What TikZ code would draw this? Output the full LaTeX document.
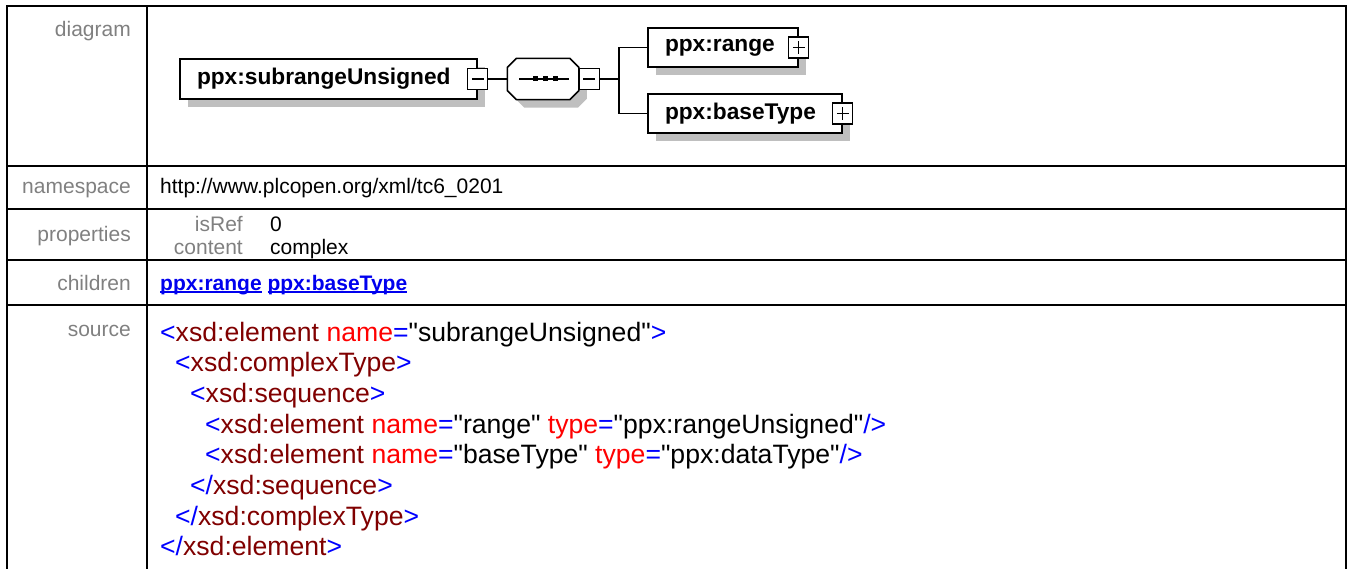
\documentclass[tikz,border=0pt]{standalone}
\usepackage{fontspec}
\setmainfont{Liberation Sans}
\newfontfamily\codefont{Liberation Sans}
\usetikzlibrary{positioning}

\definecolor{labelgray}{RGB}{128,128,128}
\definecolor{xmlblue}{RGB}{0,0,255}
\definecolor{xmltag}{RGB}{128,0,0}
\definecolor{xmlattr}{RGB}{255,0,0}
\definecolor{linkblue}{RGB}{0,0,238}

\newcommand{\xbr}[1]{\textcolor{xmlblue}{#1}}
\newcommand{\xtag}[1]{\textcolor{xmltag}{#1}}
\newcommand{\xatt}[1]{\textcolor{xmlattr}{#1}}
\newcommand{\ulink}[1]{\leavevmode\setbox0\hbox{#1}\rlap{\copy0}\rule[-3pt]{\wd0}{1.6pt}}
% octagon round a node: node, xshift, yshift
\newcommand{\octagon}[3]{([xshift=#2+9pt,yshift=#3]#1.north west) -- ([xshift=#2-9pt,yshift=#3]#1.north east) -- ([xshift=#2,yshift=#3-9pt]#1.north east) -- ([xshift=#2,yshift=#3+9pt]#1.south east) -- ([xshift=#2-9pt,yshift=#3]#1.south east) -- ([xshift=#2+9pt,yshift=#3]#1.south west) -- ([xshift=#2,yshift=#3+9pt]#1.south west) -- ([xshift=#2,yshift=#3-9pt]#1.north west) -- cycle}

\begin{document}
\begin{tikzpicture}[x=1pt, y=-1pt,
		cell/.style={font=\fontsize{21}{24}\selectfont, inner sep=0pt},
		rowlabel/.style={cell, text=labelgray, anchor=base east},
		rowvalue/.style={cell, anchor=base west},
		srcline/.style={font=\codefont\fontsize{26.6}{31}\selectfont, inner sep=0pt, anchor=base west},
		boxshadow/.style={preaction={fill=black!25, transform canvas={xshift=8pt, yshift=-8pt}}},
		elem/.style={draw, line width=1.5pt, fill=white, minimum height=40pt, inner xsep=17pt, inner ysep=0pt, align=left, font=\fontsize{22.7}{26}\selectfont\bfseries, boxshadow},
		seqbox/.style={minimum width=71pt, minimum height=41pt, inner sep=0pt},
		expander/.style={draw, line width=1.3pt, fill=white, minimum width=20pt, minimum height=21pt, inner sep=0pt},
		minusbox/.style={expander, path picture={\draw[line width=1.3pt] ([xshift=4pt]path picture bounding box.west) -- ([xshift=-4pt]path picture bounding box.east);}},
		plusbox/.style={expander, path picture={\draw[line width=1.3pt] ([xshift=4pt]path picture bounding box.west) -- ([xshift=-4pt]path picture bounding box.east) ([yshift=-4pt]path picture bounding box.north) -- ([yshift=4pt]path picture bounding box.south);}},
		conn/.style={line width=1.5pt}]
	\useasboundingbox (0,0) rectangle (1348,569);

	% table grid
	\draw[line width=2pt] (6.5,569) -- (6.5,6) -- (1346,6) -- (1346,569);
	\draw[line width=2pt] (146.5,6) -- (146.5,569);
	\foreach \ry in {166,209,260,305}
		\draw[line width=2pt] (6.5,\ry) -- (1346,\ry);

	% row labels
	\node[rowlabel] (diaglbl) at (131,37) {diagram};
	\node[rowlabel] (nslbl) at (131,194) {namespace};
	\node[rowlabel] (proplbl) at (131,241) {properties};
	\node[rowlabel] (childlbl) at (131,290) {children};
	\node[rowlabel] (srclbl) at (131,336.5) {source};

	% row values
	\node[rowvalue] (nsval) at (160,194) {http://www.plcopen.org/xml/tc6\_0201};
	\node[rowlabel] (isreflbl) at (243,232) {isRef};
	\node[rowvalue] (isrefval) at (270,232) {0};
	\node[rowlabel] (contentlbl) at (243,254.5) {content};
	\node[rowvalue] (contentval) at (270,254.5) {complex};
	\node[rowvalue, text=linkblue, font=\fontsize{21}{24}\selectfont\bfseries] (childlinks) at (160,290) {\ulink{ppx:range} \ulink{ppx:baseType}};

	% diagram
	\node[elem, text width=263pt] (subrange) at (328.5,79) {ppx:subrangeUnsigned};
	\node[minusbox] (subrangemin) at (subrange.east) {};
	\node[seqbox, right=19pt of subrangemin] (seq) {};
	\fill[black!25] \octagon{seq}{8pt}{-8pt};
	\filldraw[fill=white, line width=1.5pt] \octagon{seq}{0pt}{0pt};
	\node[minusbox, anchor=west] (seqmin) at (seq.east) {};
	\coordinate (fork) at ([xshift=19pt]seqmin.east);
	\node[elem, text width=116pt, minimum height=39pt] (range) at (723,47.5) {ppx:range};
	\node[plusbox] (rangeplus) at (range.east) {};
	\node[elem, text width=160pt, minimum height=39pt] (basetype) at (745,113.5) {ppx:baseType};
	\node[plusbox] (basetypeplus) at (basetype.east) {};

	\draw[line width=1.3pt] ([xshift=-24pt]seq.center) -- ([xshift=26pt]seq.center);
	\foreach \dx in {-8,2,12}
		\fill ([xshift=\dx pt]seq.center) ++(-2.5,-2.5) rectangle ++(5,5);

	\draw[conn] (subrangemin) -- (seq);
	\draw[conn] (seqmin) -- (fork);
	\draw[conn] (range.west) -| (fork) |- (basetype.west);

	% source
	\node[srcline] (src1) at (160,341) {\xbr{<}\xtag{xsd:element} \xatt{name}\xbr{=}"subrangeUnsigned"\xbr{>}};
	\node[srcline] (src2) at (175,371.7) {\xbr{<}\xtag{xsd:complexType}\xbr{>}};
	\node[srcline] (src3) at (190,402.4) {\xbr{<}\xtag{xsd:sequence}\xbr{>}};
	\node[srcline] (src4) at (205,433.1) {\xbr{<}\xtag{xsd:element} \xatt{name}\xbr{=}"range" \xatt{type}\xbr{=}"ppx:rangeUnsigned"\xbr{/>}};
	\node[srcline] (src5) at (205,463.8) {\xbr{<}\xtag{xsd:element} \xatt{name}\xbr{=}"baseType" \xatt{type}\xbr{=}"ppx:dataType"\xbr{/>}};
	\node[srcline] (src6) at (190,494.5) {\xbr{</}\xtag{xsd:sequence}\xbr{>}};
	\node[srcline] (src7) at (175,525.2) {\xbr{</}\xtag{xsd:complexType}\xbr{>}};
	\node[srcline] (src8) at (160,555.9) {\xbr{</}\xtag{xsd:element}\xbr{>}};
\end{tikzpicture}
\end{document}
